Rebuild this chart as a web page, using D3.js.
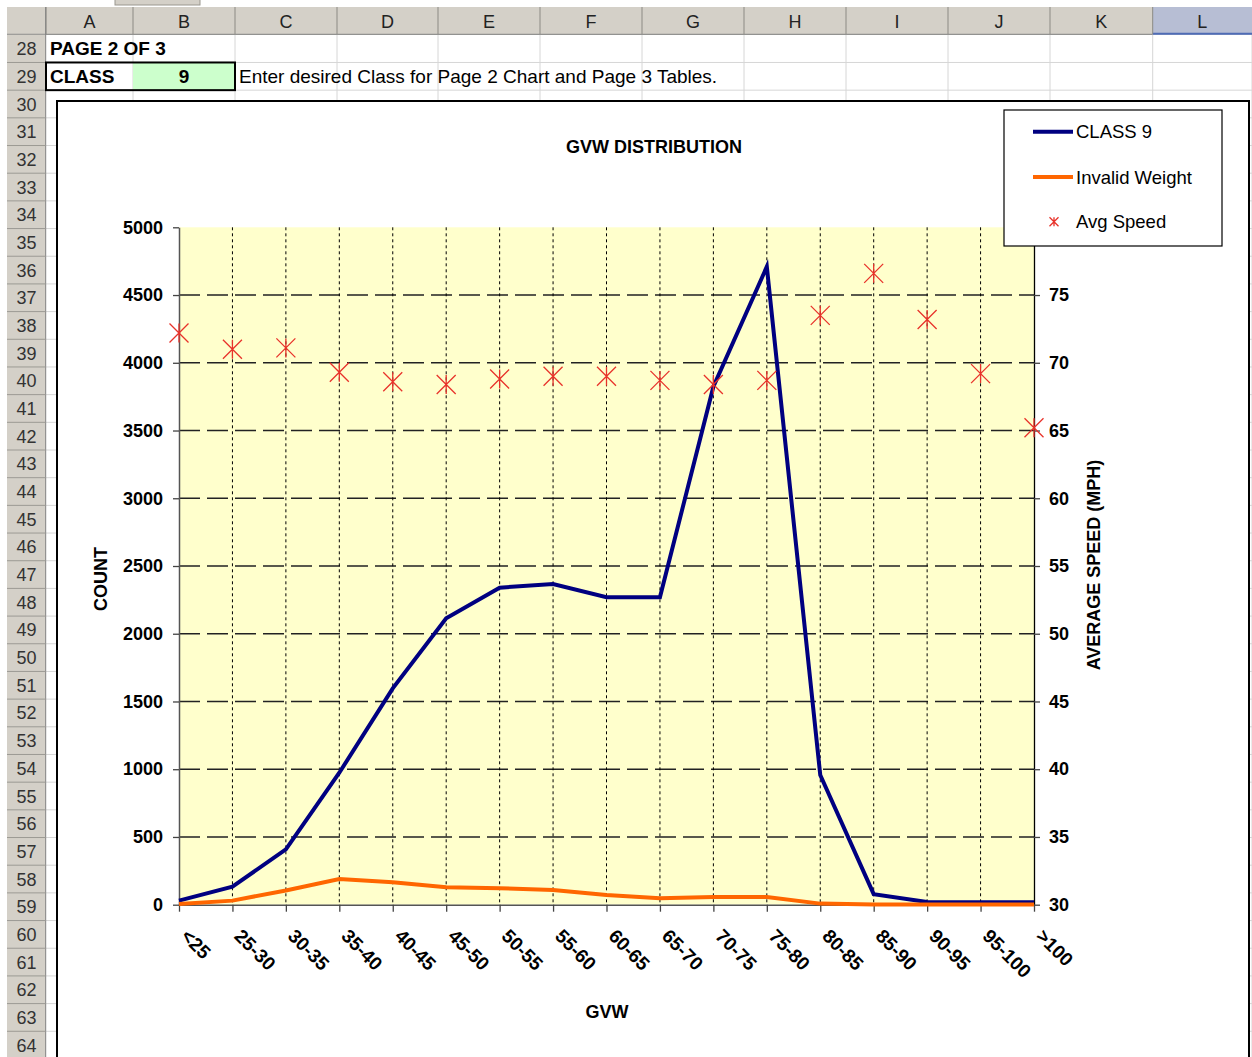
<!DOCTYPE html>
<html>
<head>
<meta charset="utf-8">
<script src="https://cdn.jsdelivr.net/npm/d3@7"></script>
<style>
  body { margin: 0; background: #fff; }
  svg { display: block; font-family: "Liberation Sans", Arial, sans-serif; }
</style>
</head>
<body>
<svg id="hoja" width="1252" height="1057"></svg>
<script>
// datos del grafico
const categorias = ["<25", "25-30", "30-35", "35-40", "40-45", "45-50", "50-55", "55-60", "60-65",
  "65-70", "70-75", "75-80", "80-85", "85-90", "90-95", "95-100", ">100"];
const clase9 = [30, 133, 409, 974, 1597, 2114, 2340, 2367, 2270, 2270, 3823, 4709, 957, 78, 20, 18, 18];
const pesoInvalido = [5, 30, 105, 190, 165, 128, 122, 108, 72, 47, 57, 57, 8, 2, 2, 2, 2];
const velocidadMedia = [72.2, 71.0, 71.1, 69.3, 68.6, 68.4, 68.8, 69.0, 69.0, 68.7, 68.4, 68.7, 73.5, 76.6, 73.2, 69.2, 65.2];
const ticksConteo = [0, 500, 1000, 1500, 2000, 2500, 3000, 3500, 4000, 4500, 5000];
const ticksVelocidad = [30, 35, 40, 45, 50, 55, 60, 65, 70, 75, 80];
const leyenda = ["CLASS 9", "Invalid Weight", "Avg Speed"];

// hoja de calculo (columnas y filas)
const columnas = ["A", "B", "C", "D", "E", "F", "G", "H", "I", "J", "K", "L"];
const bordesCol = [46, 133, 235, 337, 438, 540, 642, 744, 846, 948, 1050, 1152.7, 1252];
const filaAlto = 27.68;
const filaTop = r => 34.8 + (r - 28) * filaAlto;
const filas = d3.range(28, 65);

const svg = d3.select("#hoja");
const gris = "#d4d0c8";

svg.append("rect").attr("width", 1252).attr("height", 1057).attr("fill", "#fff");

// lineas de cuadricula de celdas
svg.selectAll("line.celdaH").data(filas).join("line")
  .attr("x1", 46).attr("x2", 1252)
  .attr("y1", d => filaTop(d + 1)).attr("y2", d => filaTop(d + 1))
  .attr("stroke", "#d6d6d6");
svg.selectAll("line.celdaV").data(bordesCol.slice(1)).join("line")
  .attr("x1", d => d).attr("x2", d => d)
  .attr("y1", 34.8).attr("y2", 1057)
  .attr("stroke", "#d6d6d6");

// pestaña de arriba
svg.append("rect").attr("x", 115).attr("y", -2).attr("width", 85).attr("height", 7)
  .attr("fill", gris).attr("stroke", "#9a978f");

// cabecera de columnas
svg.append("rect").attr("x", 7).attr("y", 7).attr("width", 1245).attr("height", 27.8).attr("fill", gris);
svg.append("rect").attr("x", bordesCol[11]).attr("y", 7).attr("width", 1252 - bordesCol[11]).attr("height", 27.8)
  .attr("fill", "#b7bed4");
svg.append("line").attr("x1", bordesCol[11]).attr("x2", 1252).attr("y1", 33.8).attr("y2", 33.8)
  .attr("stroke", "#4f6cb5").attr("stroke-width", 2);
svg.append("line").attr("x1", 7).attr("x2", bordesCol[11]).attr("y1", 34.3).attr("y2", 34.3)
  .attr("stroke", "#808080");
svg.selectAll("line.sepCol").data(bordesCol.slice(0, 12)).join("line")
  .attr("x1", d => d).attr("x2", d => d).attr("y1", 7).attr("y2", 34)
  .attr("stroke", "#8c8a84");
svg.selectAll("text.col").data(columnas).join("text")
  .attr("x", (d, i) => (bordesCol[i] + bordesCol[i + 1]) / 2)
  .attr("y", 27.5)
  .attr("text-anchor", "middle")
  .attr("font-size", 18).attr("fill", "#222")
  .text(d => d);

// cabecera de filas
svg.append("rect").attr("x", 7).attr("y", 34.8).attr("width", 38.7).attr("height", 1030).attr("fill", gris);
svg.append("line").attr("x1", 45.7).attr("x2", 45.7).attr("y1", 7).attr("y2", 1057).attr("stroke", "#808080");
svg.selectAll("line.sepFila").data(filas).join("line")
  .attr("x1", 7).attr("x2", 45.7)
  .attr("y1", d => filaTop(d + 1)).attr("y2", d => filaTop(d + 1))
  .attr("stroke", "#9c9a94");
svg.selectAll("text.fila").data(filas).join("text")
  .attr("x", 26.5)
  .attr("y", d => filaTop(d) + filaAlto / 2 + 6.5)
  .attr("text-anchor", "middle")
  .attr("font-size", 18).attr("fill", "#333")
  .text(d => d);

// celdas con texto
svg.append("text").attr("x", 50).attr("y", filaTop(28) + 20.5)
  .attr("font-size", 19).attr("font-weight", "bold").text("PAGE 2 OF 3");
svg.append("rect").attr("x", 133).attr("y", filaTop(29)).attr("width", 102).attr("height", filaAlto)
  .attr("fill", "#ccffcc");
svg.append("text").attr("x", 50).attr("y", filaTop(29) + 20.5)
  .attr("font-size", 19).attr("font-weight", "bold").text("CLASS");
svg.append("text").attr("x", 184).attr("y", filaTop(29) + 20.5)
  .attr("text-anchor", "middle")
  .attr("font-size", 19).attr("font-weight", "bold").text("9");
svg.append("rect").attr("x", 46).attr("y", filaTop(29)).attr("width", 189).attr("height", filaAlto)
  .attr("fill", "none").attr("stroke", "#000").attr("stroke-width", 2);
svg.append("text").attr("x", 239).attr("y", filaTop(29) + 20.5)
  .attr("font-size", 19).text("Enter desired Class for Page 2 Chart and Page 3 Tables.");

// area del grafico
svg.append("rect").attr("x", 57).attr("y", 101).attr("width", 1192).attr("height", 1000)
  .attr("fill", "#fff").attr("stroke", "#000").attr("stroke-width", 2);

const x = d3.scalePoint().domain(categorias).range([179, 1034]);
const yConteo = d3.scaleLinear().domain([0, 5000]).range([904.7, 227.3]);
const yVel = d3.scaleLinear().domain([30, 80]).range([904.7, 227.3]);

svg.append("rect")
  .attr("x", x(categorias[0])).attr("y", yConteo(5000))
  .attr("width", x(categorias[16]) - x(categorias[0]))
  .attr("height", yConteo(0) - yConteo(5000))
  .attr("fill", "#ffffcc");

// rejilla horizontal
svg.selectAll("line.rejH").data(ticksConteo.slice(1, -1)).join("line")
  .attr("x1", 179).attr("x2", 1034)
  .attr("y1", d => yConteo(d)).attr("y2", d => yConteo(d))
  .attr("stroke", "#222").attr("stroke-width", 1.4)
  .attr("stroke-dasharray", "21,7");

// rejilla vertical
svg.selectAll("line.rejV").data(categorias.slice(1, -1)).join("line")
  .attr("x1", d => x(d)).attr("x2", d => x(d))
  .attr("y1", yConteo(5000)).attr("y2", yConteo(0))
  .attr("stroke", "#000").attr("stroke-width", 1)
  .attr("stroke-dasharray", "3,3");

// ejes
const ejeIzq = svg.append("g").attr("transform", "translate(179,0)")
  .call(d3.axisLeft(yConteo).tickValues(ticksConteo).tickFormat(d3.format("d"))
    .tickSize(6).tickSizeOuter(0).tickPadding(10));
const ejeDer = svg.append("g").attr("transform", "translate(1034,0)")
  .call(d3.axisRight(yVel).tickValues(ticksVelocidad).tickFormat(d3.format("d"))
    .tickSize(6).tickSizeOuter(0).tickPadding(9));
const ejeInf = svg.append("g").attr("transform", "translate(0,904.7)")
  .call(d3.axisBottom(x).tickSize(7).tickSizeOuter(0).tickPadding(0));

[ejeIzq, ejeDer, ejeInf].forEach(g => {
  g.selectAll("text").attr("font-family", "Liberation Sans, Arial, sans-serif")
    .attr("font-size", 18).attr("font-weight", "bold").attr("fill", "#000");
});
ejeIzq.select(".domain").attr("stroke", "#555").attr("stroke-width", 1.5);
ejeIzq.selectAll(".tick line").attr("stroke", "#444").attr("stroke-width", 1.3);
ejeDer.select(".domain").attr("stroke", "#000").attr("stroke-width", 1.3);
ejeDer.selectAll(".tick line").attr("stroke", "#444").attr("stroke-width", 1.3);
ejeInf.select(".domain").attr("stroke", "#555").attr("stroke-width", 1.5);
ejeInf.selectAll(".tick line").attr("stroke", "#444").attr("stroke-width", 1.3);

ejeInf.selectAll(".tick text")
  .attr("text-anchor", "start")
  .attr("dy", "0.72em")
  .attr("font-size", 19)
  .attr("transform", "translate(15,18) rotate(45)");

// series
const lineaConteo = d3.line().x((d, i) => x(categorias[i])).y(d => yConteo(d));
svg.append("path").datum(clase9)
  .attr("d", lineaConteo)
  .attr("fill", "none").attr("stroke", "#000080").attr("stroke-width", 4)
  .attr("stroke-linejoin", "miter");
svg.append("path").datum(pesoInvalido)
  .attr("d", lineaConteo)
  .attr("fill", "none").attr("stroke", "#ff6600").attr("stroke-width", 4);

// marcador estrella
function estrella(g, cx, cy, r) {
  g.append("path")
    .attr("d", `M${cx - r},${cy - r}L${cx + r},${cy + r}M${cx - r},${cy + r}L${cx + r},${cy - r}M${cx},${cy - r}L${cx},${cy + r}`)
    .attr("stroke", "#e8322a").attr("stroke-width", 1.3).attr("fill", "none");
}
const marcas = svg.append("g");
velocidadMedia.forEach((v, i) => estrella(marcas, x(categorias[i]), yVel(v), 9.5));

// titulos
svg.append("text").attr("x", 654).attr("y", 153).attr("text-anchor", "middle")
  .attr("font-size", 18).attr("font-weight", "bold").text("GVW DISTRIBUTION");
svg.append("text").attr("x", 607).attr("y", 1018).attr("text-anchor", "middle")
  .attr("font-size", 18).attr("font-weight", "bold").text("GVW");
svg.append("text").attr("transform", "translate(107,579) rotate(-90)").attr("text-anchor", "middle")
  .attr("font-size", 18).attr("font-weight", "bold").text("COUNT");
svg.append("text").attr("transform", "translate(1100,565) rotate(-90)").attr("text-anchor", "middle")
  .attr("font-size", 18).attr("font-weight", "bold").text("AVERAGE SPEED (MPH)");

// leyenda
const ley = svg.append("g");
ley.append("rect").attr("x", 1004).attr("y", 110).attr("width", 218).attr("height", 136)
  .attr("fill", "#fff").attr("stroke", "#000").attr("stroke-width", 1.2);
const leyY = [131.7, 177, 221.7];
ley.append("line").attr("x1", 1033).attr("x2", 1073).attr("y1", leyY[0]).attr("y2", leyY[0])
  .attr("stroke", "#000080").attr("stroke-width", 4);
ley.append("line").attr("x1", 1033).attr("x2", 1073).attr("y1", leyY[1]).attr("y2", leyY[1])
  .attr("stroke", "#ff6600").attr("stroke-width", 4);
estrella(ley, 1054, leyY[2], 4.5);
ley.selectAll("text").data(leyenda).join("text")
  .attr("x", 1076).attr("y", (d, i) => leyY[i] + 6.5)
  .attr("font-size", 18.5).text(d => d);
</script>
</body>
</html>
